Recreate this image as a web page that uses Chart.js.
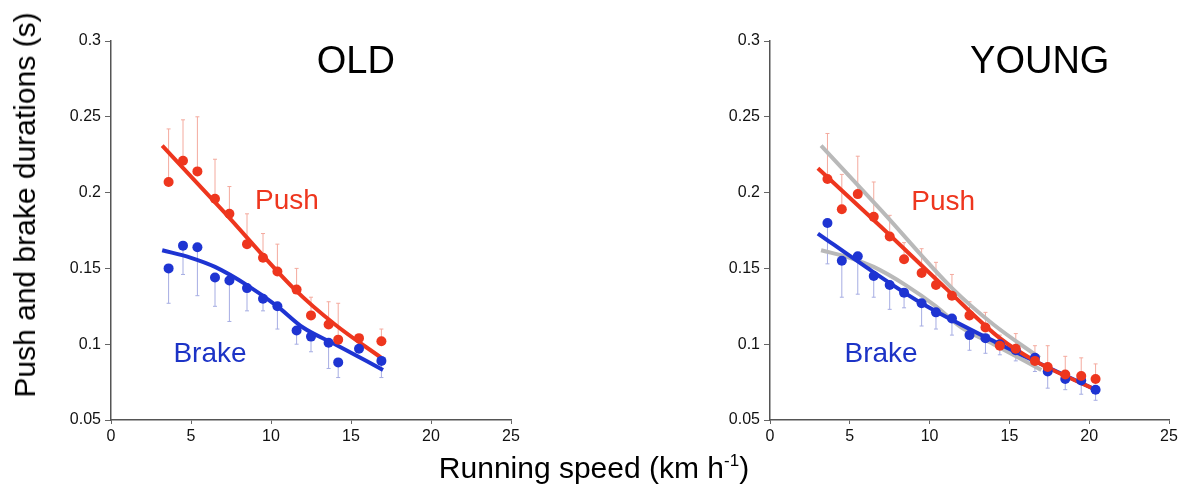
<!DOCTYPE html>
<html>
<head>
<meta charset="utf-8">
<script src="https://cdn.jsdelivr.net/npm/chart.js@4"></script>
<style>
  body { margin: 0; background: #fff; width: 1187px; height: 486px; position: relative; overflow: hidden;
         font-family: "Liberation Sans", Arial, Helvetica, sans-serif; }
  #old { position: absolute; left: 0; top: 0; }
  #young { position: absolute; left: 600px; top: 0; }
  .ytitle { position: absolute; left: 25px; top: 205px; transform: translate(-50%, -50%) rotate(-90deg);
            font-size: 30px; line-height: 30px; white-space: nowrap; color: #000; }
  .xtitle { position: absolute; left: 594px; top: 453px; transform: translateX(-50%);
            font-size: 30px; line-height: 30px; white-space: nowrap; color: #000; }
  .xtitle sup { font-size: 17px; line-height: 0; vertical-align: 12px; }
</style>
</head>
<body>
<canvas id="old" width="540" height="486"></canvas>
<canvas id="young" width="587" height="486"></canvas>
<div class="ytitle">Push and brake durations (s)</div>
<div class="xtitle">Running speed (km h<sup>-1</sup>)</div>
<script>
// tick labels
const xTicks = [0, 5, 10, 15, 20, 25];
const yTicks = [0.05, 0.1, 0.15, 0.2, 0.25, 0.3];
const yTickLabels = ["0.05", "0.1", "0.15", "0.2", "0.25", "0.3"];

// OLD runners
const speedOld = [3.6, 4.5, 5.4, 6.5, 7.4, 8.5, 9.5, 10.4, 11.6, 12.5, 13.6, 14.2, 15.5, 16.9];
const pushOld = [0.207, 0.221, 0.214, 0.196, 0.186, 0.166, 0.157, 0.148, 0.136, 0.119, 0.113, 0.103, 0.104, 0.102];
const pushOldSd = [0.035, 0.027, 0.036, 0.026, 0.018, 0.020, 0.016, 0.018, 0.014, 0.012, 0.015, 0.024, 0, 0.008];
const brakeOld = [0.150, 0.165, 0.164, 0.144, 0.142, 0.137, 0.130, 0.125, 0.109, 0.105, 0.101, 0.088, 0.097, 0.089];
const brakeOldSd = [0.023, 0.019, 0.032, 0.019, 0.027, 0.015, 0.008, 0.015, 0.009, 0.010, 0.017, 0.010, 0, 0.011];

const pushOldFitX = [3.2, 7, 11.5, 14, 16.9];
const pushOldFitY = [0.231, 0.188, 0.136, 0.113, 0.091];
const brakeOldFitX = [3.2, 5, 6.5, 8.5, 10.4, 12, 14, 17];
const brakeOldFitY = [0.162, 0.157, 0.151, 0.139, 0.125, 0.111, 0.100, 0.083];

// YOUNG runners
const speedYoung = [3.6, 4.5, 5.5, 6.5, 7.5, 8.4, 9.5, 10.4, 11.4, 12.5, 13.5, 14.4, 15.4, 16.6, 17.4, 18.5, 19.5, 20.4];
const pushYoung = [0.209, 0.189, 0.199, 0.184, 0.171, 0.156, 0.147, 0.139, 0.132, 0.119, 0.111, 0.099, 0.097, 0.089, 0.085, 0.080, 0.079, 0.077];
const pushYoungSd = [0.030, 0.023, 0.025, 0.023, 0.014, 0.011, 0.016, 0.015, 0.014, 0.009, 0.010, 0.007, 0.010, 0.010, 0.014, 0.012, 0.012, 0.010];
const brakeYoung = [0.180, 0.155, 0.158, 0.145, 0.139, 0.134, 0.127, 0.121, 0.117, 0.106, 0.104, 0.100, 0.096, 0.091, 0.082, 0.077, 0.076, 0.070];
const brakeYoungSd = [0.027, 0.024, 0.025, 0.014, 0.016, 0.010, 0.015, 0.011, 0.011, 0.010, 0.010, 0.007, 0.007, 0.009, 0.011, 0.007, 0.009, 0.007];

const pushYoungFitX = [3, 7, 11, 14.4, 16.6, 20.6];
const pushYoungFitY = [0.216, 0.177, 0.137, 0.104, 0.089, 0.069];
const brakeYoungFitX = [3, 6, 9.5, 14.4, 20.6];
const brakeYoungFitY = [0.173, 0.151, 0.127, 0.100, 0.069];

const RED = "#ee361e";
const BLUE = "#1e34d2";
const GREY = "#b9b9b9";
const FONT = '"Liberation Sans", Arial, Helvetica, sans-serif';

function pts(xs, ys) {
  return xs.map((x, i) => ({ x: x, y: ys[i] }));
}

function dots(xs, ys, color) {
  return { data: pts(xs, ys), showLine: false, pointRadius: 5, pointHoverRadius: 5,
           backgroundColor: color, borderColor: color, borderWidth: 0 };
}

function fit(xs, ys, color) {
  return { data: pts(xs, ys), showLine: true, pointRadius: 0, borderColor: color, borderWidth: 4,
           tension: 0.4, cubicInterpolationMode: "monotone", fill: false };
}

// error bars drawn through the chart scales
function errorBars(sets) {
  return {
    id: "errorBars",
    beforeDatasetsDraw(chart) {
      const { ctx, scales: { x, y } } = chart;
      sets.forEach((s) => {
        ctx.save();
        ctx.strokeStyle = s.color;
        ctx.lineWidth = 1;
        s.xs.forEach((v, i) => {
          if (!s.sd[i]) return;
          const px = x.getPixelForValue(v);
          const y0 = y.getPixelForValue(s.ys[i]);
          const y1 = y.getPixelForValue(s.ys[i] + s.dir * s.sd[i]);
          ctx.beginPath();
          ctx.moveTo(px, y0);
          ctx.lineTo(px, y1);
          ctx.moveTo(px - 2, y1);
          ctx.lineTo(px + 2, y1);
          ctx.stroke();
        });
        ctx.restore();
      });
    },
  };
}

// text labels placed in data coordinates
function labels(list) {
  return {
    id: "labels",
    afterDatasetsDraw(chart) {
      const { ctx, scales: { x, y } } = chart;
      list.forEach((l) => {
        ctx.save();
        ctx.font = l.size + "px " + FONT;
        ctx.fillStyle = l.color;
        ctx.textAlign = l.align;
        ctx.textBaseline = "alphabetic";
        ctx.fillText(l.text, x.getPixelForValue(l.x), y.getPixelForValue(l.y));
        ctx.restore();
      });
    },
  };
}

function scales(yWidth) {
  return {
    x: {
      type: "linear", min: 0, max: 25,
      afterBuildTicks: (s) => { s.ticks = xTicks.map((v) => ({ value: v })); },
      afterFit: (s) => { s.height = 66; },
      grid: { drawOnChartArea: false, tickLength: 4, color: "#666", lineWidth: 1 },
      border: { color: "#555", width: 1.5 },
      ticks: { color: "#111", font: { family: FONT, size: 16 }, padding: 3, maxRotation: 0 },
    },
    y: {
      type: "linear", min: 0.05, max: 0.3,
      afterBuildTicks: (s) => { s.ticks = yTicks.map((v) => ({ value: v })); },
      afterFit: (s) => { s.width = yWidth; },
      grid: { drawOnChartArea: false, tickLength: 6, color: "#666", lineWidth: 1 },
      border: { color: "#555", width: 1.5 },
      ticks: { color: "#111", font: { family: FONT, size: 16 }, padding: 4,
               callback: (v) => yTickLabels[yTicks.findIndex((t) => Math.abs(t - v) < 1e-6)] },
    },
  };
}

function baseOptions(yWidth, right) {
  return {
    responsive: false,
    animation: false,
    layout: { padding: { top: 41, right: right, left: 0, bottom: 0 } },
    plugins: { legend: { display: false }, tooltip: { enabled: false } },
    scales: scales(yWidth),
  };
}

new Chart(document.getElementById("old"), {
  type: "scatter",
  data: {
    datasets: [
      dots(speedOld, pushOld, RED),
      dots(speedOld, brakeOld, BLUE),
      fit(pushOldFitX, pushOldFitY, RED),
      fit(brakeOldFitX, brakeOldFitY, BLUE),
    ],
  },
  options: baseOptions(111, 29),
  plugins: [
    errorBars([
      { xs: speedOld, ys: pushOld, sd: pushOldSd, dir: 1, color: "#f4aa9e" },
      { xs: speedOld, ys: brakeOld, sd: brakeOldSd, dir: -1, color: "#a6ade3" },
    ]),
    labels([
      { text: "OLD", x: 15.3, y: 0.279, size: 38, color: "#000", align: "center" },
      { text: "Push", x: 9.0, y: 0.189, size: 28, color: RED, align: "left" },
      { text: "Brake", x: 3.9, y: 0.088, size: 28, color: "#1c33c6", align: "left" },
    ]),
  ],
});

new Chart(document.getElementById("young"), {
  type: "scatter",
  data: {
    datasets: [
      dots(speedYoung, pushYoung, RED),
      dots(speedYoung, brakeYoung, BLUE),
      fit(pushYoungFitX, pushYoungFitY, RED),
      fit(brakeYoungFitX, brakeYoungFitY, BLUE),
      fit(pushOldFitX, pushOldFitY, GREY),
      fit(brakeOldFitX, brakeOldFitY, GREY),
    ],
  },
  options: baseOptions(170, 18),
  plugins: [
    errorBars([
      { xs: speedYoung, ys: pushYoung, sd: pushYoungSd, dir: 1, color: "#f4aa9e" },
      { xs: speedYoung, ys: brakeYoung, sd: brakeYoungSd, dir: -1, color: "#a6ade3" },
    ]),
    labels([
      { text: "YOUNG", x: 16.9, y: 0.279, size: 38, color: "#000", align: "center" },
      { text: "Push", x: 8.85, y: 0.1886, size: 28, color: RED, align: "left" },
      { text: "Brake", x: 4.67, y: 0.088, size: 28, color: "#1c33c6", align: "left" },
    ]),
  ],
});
</script>
</body>
</html>
